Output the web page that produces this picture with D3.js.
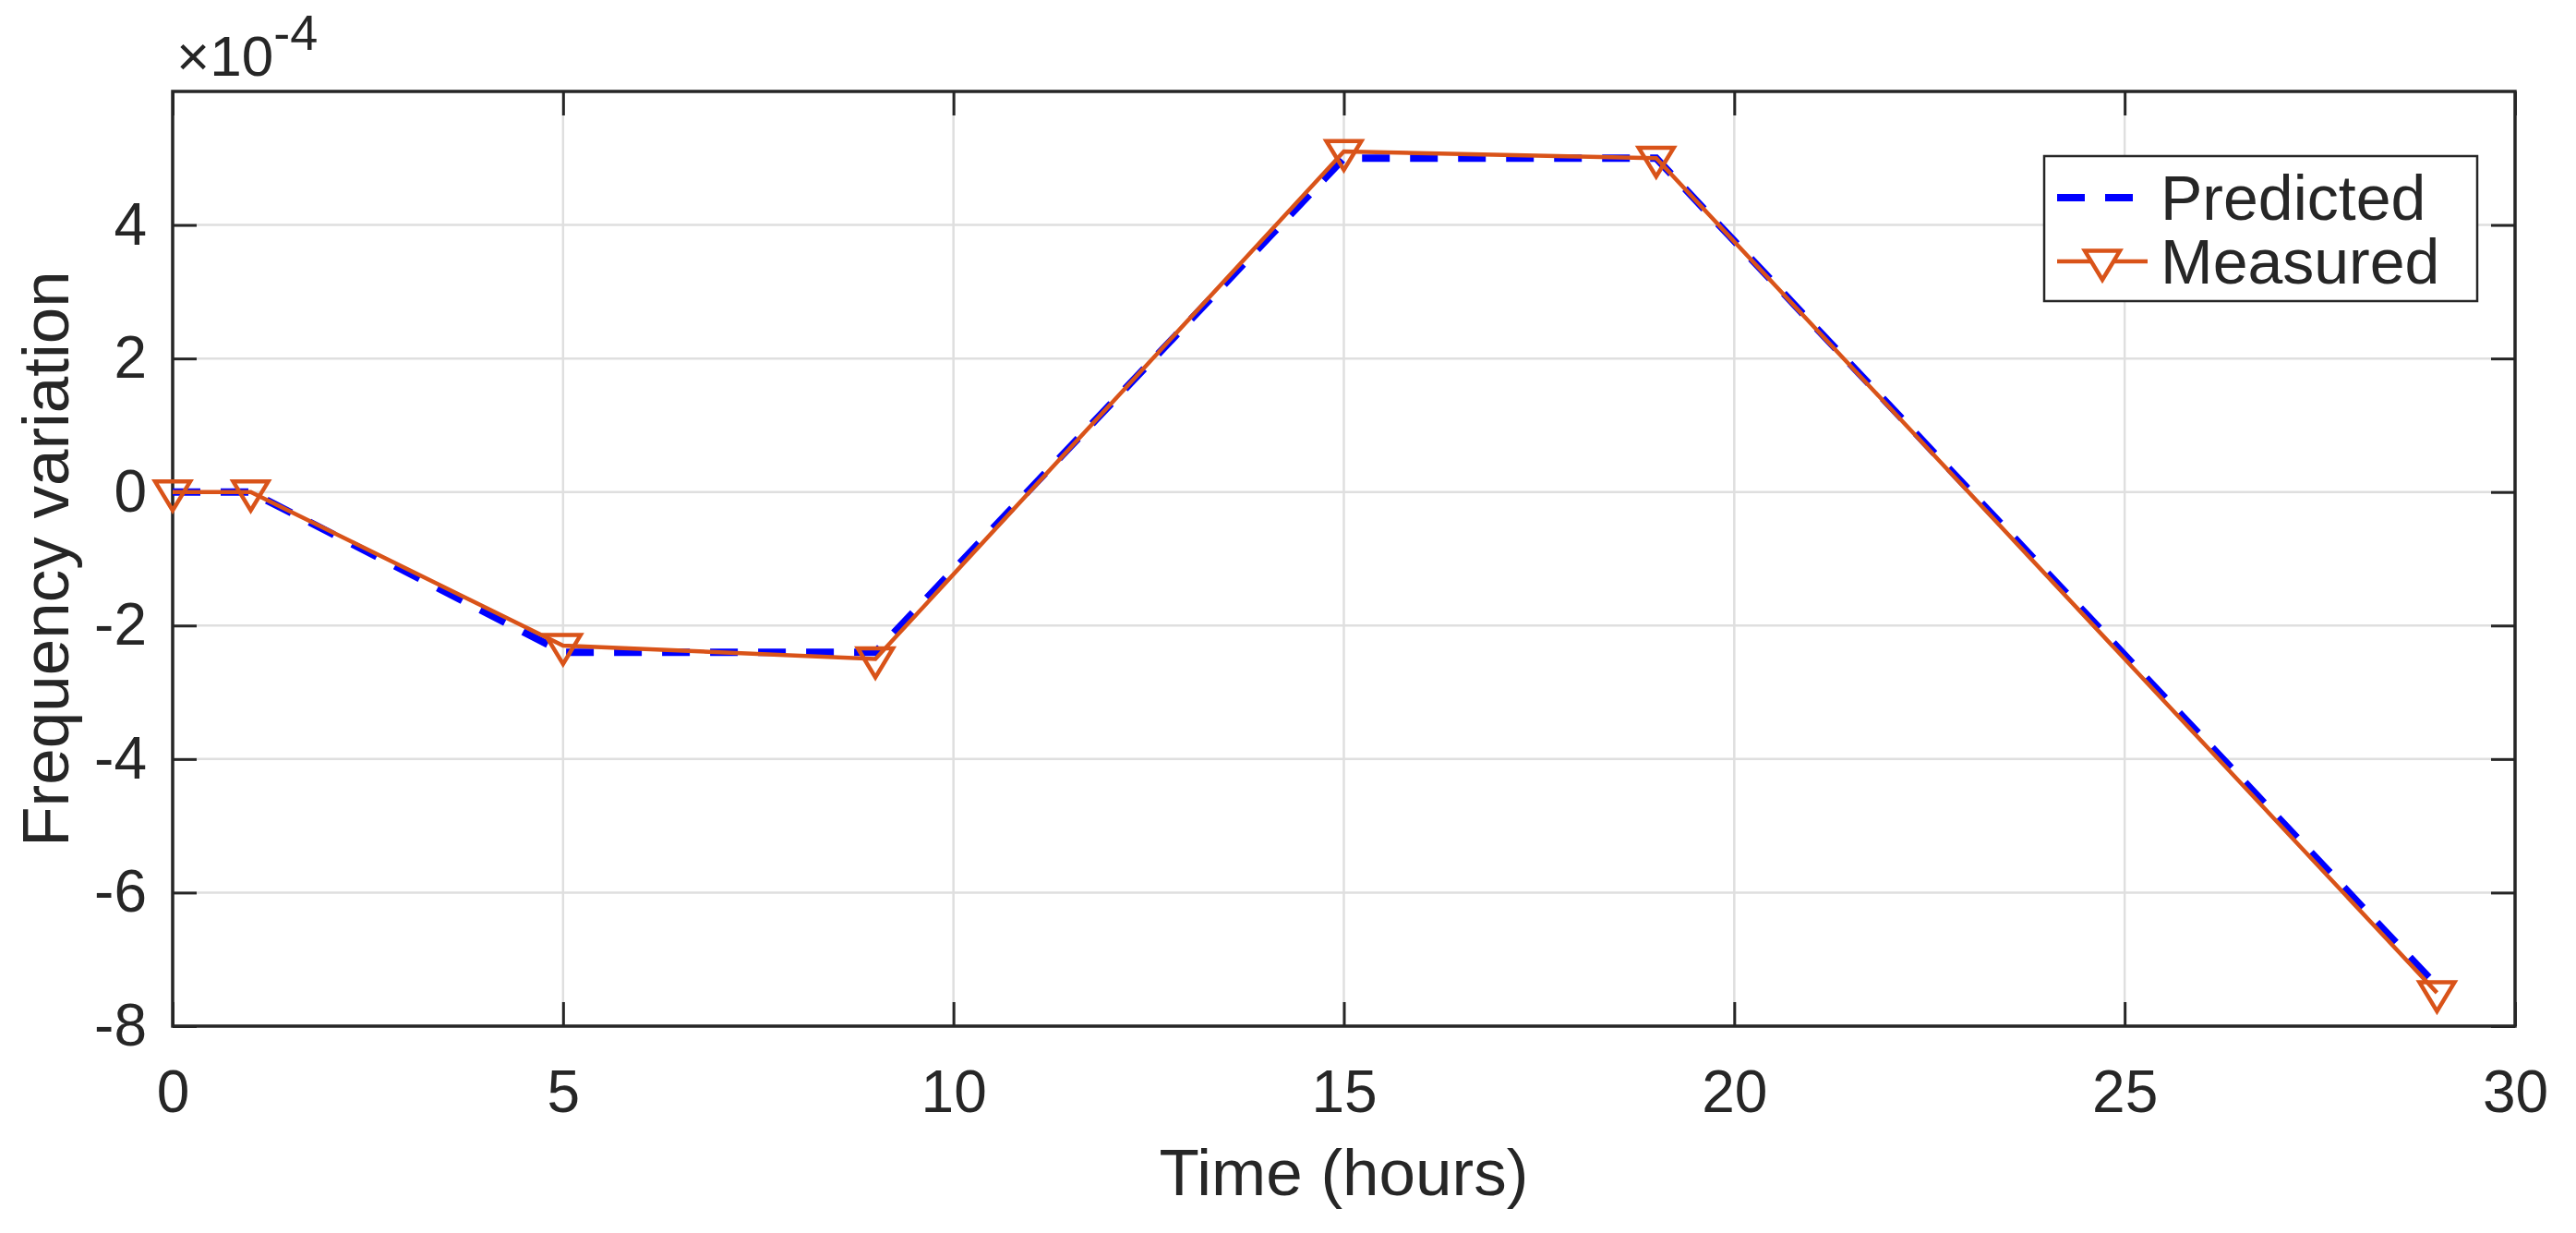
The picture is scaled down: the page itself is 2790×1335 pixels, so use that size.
<!DOCTYPE html>
<html><head><meta charset="utf-8">
<script src="https://cdn.jsdelivr.net/npm/d3@7"></script>
<style>body{margin:0;background:#fff}svg text{font-family:"Liberation Sans",Arial,sans-serif;fill:#262626}</style>
</head><body><svg id="c" width="2790" height="1335"></svg>
<script>
const hours = [0,1,5,9,15,19,29];
const predicted = [0,0,-2.4,-2.4,5.0,5.0,-7.4];
const measured = [0,0,-2.3,-2.5,5.1,5.0,-7.5];
const xTicks = [0,5,10,15,20,25,30];
const yTicks = [-8,-6,-4,-2,0,2,4];
const seriesNames = ["Predicted","Measured"];

const svg = d3.select("#c");
const L=187,R=2724,T=99,B=1111;
const x = d3.scaleLinear().domain([0,30]).range([L,R]);
const y = d3.scaleLinear().domain([-8,6]).range([B,T]);
const g = svg.append("g");
g.selectAll(".gx").data(xTicks).enter().append("line").attr("x1",d=>x(d)).attr("x2",d=>x(d)).attr("y1",T).attr("y2",B).attr("stroke","#dfdfdf").attr("stroke-width",2.5);
g.selectAll(".gy").data(yTicks).enter().append("line").attr("y1",d=>y(d)).attr("y2",d=>y(d)).attr("x1",L).attr("x2",R).attr("stroke","#dfdfdf").attr("stroke-width",2.5);
const ax = d3.axisBottom(x).tickValues(xTicks).tickSize(-26).tickPadding(0);
const ay = d3.axisLeft(y).tickValues(yTicks).tickSize(-26).tickFormat(d=>d);
const axT = d3.axisTop(x).tickValues(xTicks).tickSize(-26).tickFormat("");
const ayR = d3.axisRight(y).tickValues(yTicks).tickSize(-26).tickFormat("");
function style(sel){sel.selectAll("path").remove();sel.selectAll("line").attr("stroke","#262626").attr("stroke-width",3);sel.selectAll("text").attr("font-size",64).style("fill","#262626");}
const gx=svg.append("g").attr("transform",`translate(0,${B})`).call(ax).call(style);
gx.selectAll("text").attr("y",48).attr("dy","0.71em");
const gy=svg.append("g").attr("transform",`translate(${L},0)`).call(ay).call(style);
gy.selectAll("text").attr("x",-28);
svg.append("g").attr("transform",`translate(0,${T})`).call(axT).call(style);
svg.append("g").attr("transform",`translate(${R},0)`).call(ayR).call(style);
svg.append("rect").attr("x",L).attr("y",T).attr("width",R-L).attr("height",B-T).attr("fill","none").attr("stroke","#262626").attr("stroke-width",3.5);
const ex=svg.append("text").attr("x",L+4).attr("y",82).attr("font-size",62);
ex.append("tspan").text("×10");
ex.append("tspan").attr("dy",-28).attr("font-size",54).text("-4");
svg.append("text").attr("x",(L+R)/2).attr("y",1294).attr("text-anchor","middle").attr("font-size",71).text("Time (hours)");
svg.append("text").attr("transform",`translate(74,${(T+B)/2}) rotate(-90)`).attr("text-anchor","middle").attr("font-size",71).text("Frequency variation");
const line = (vals)=>d3.line().x((d,i)=>x(hours[i])).y(d=>y(d))(vals);
svg.append("path").attr("d",line(predicted)).attr("fill","none").attr("stroke","#0000ff").attr("stroke-width",8).attr("stroke-dasharray","30,22");
svg.append("path").attr("d",line(measured)).attr("fill","none").attr("stroke","#D95319").attr("stroke-width",4.5);
const tri = s=>`M${-s},${-s*0.6}L${s},${-s*0.6}L0,${s*1.05}Z`;
svg.selectAll(".m").data(measured).enter().append("path").attr("d",tri(19)).attr("transform",(d,i)=>`translate(${x(hours[i])},${y(d)})`).attr("fill","none").attr("stroke","#D95319").attr("stroke-width",4.5);
const lg=svg.append("g").attr("transform","translate(2214,169)");
lg.append("rect").attr("width",469).attr("height",157).attr("fill","#fff").attr("stroke","#262626").attr("stroke-width",2.5);
lg.append("line").attr("x1",14).attr("x2",112).attr("y1",45).attr("y2",45).attr("stroke","#0000ff").attr("stroke-width",8).attr("stroke-dasharray","30,22");
lg.append("line").attr("x1",14).attr("x2",112).attr("y1",114).attr("y2",114).attr("stroke","#D95319").attr("stroke-width",4.5);
lg.append("path").attr("d",tri(19)).attr("transform","translate(63,114)").attr("fill","#fff").attr("stroke","#D95319").attr("stroke-width",4.5);
lg.selectAll(".lt").data(seriesNames).enter().append("text").attr("x",126).attr("y",(d,i)=>45+i*69+24).attr("font-size",68).text(d=>d);
</script></body></html>
